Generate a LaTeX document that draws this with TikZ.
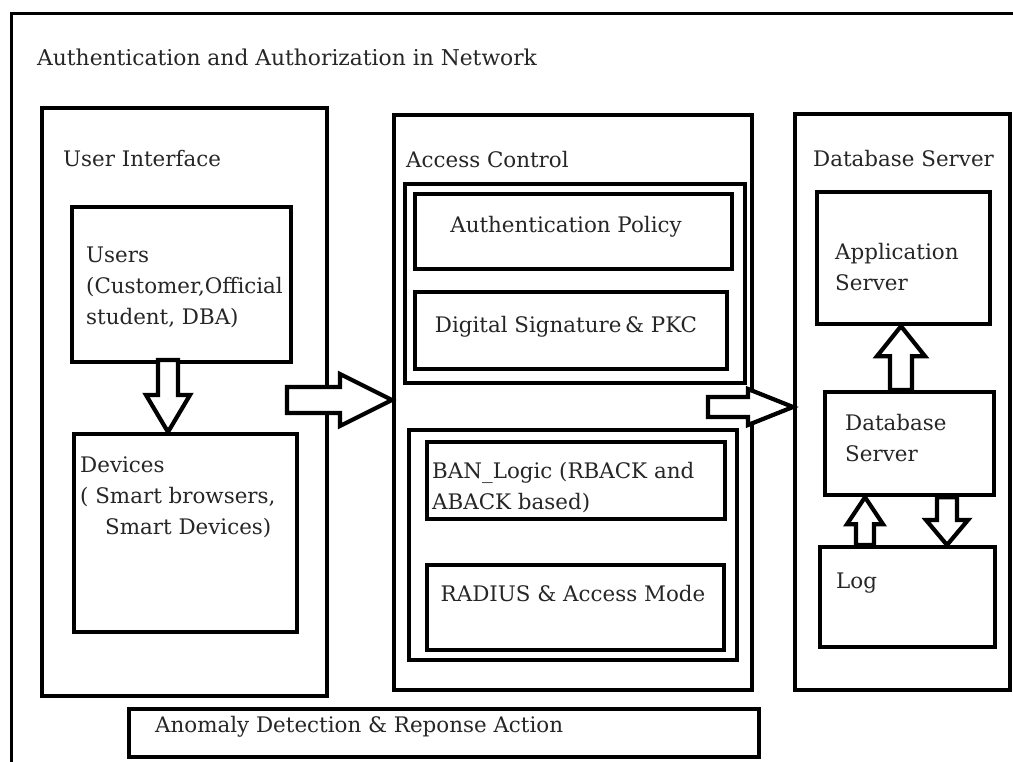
\documentclass[tikz,border=0pt]{standalone}
\usepackage{fontspec}
\setmainfont{DejaVu Serif}
\usetikzlibrary{calc}
\tikzset{
  box/.style={draw=black, line width=4.2pt, fill=white, inner sep=0pt, anchor=north west},
  txt/.style={text=black!85, inner sep=0pt, font=\fontsize{21.4}{31}\selectfont, align=left},
  blockarrow/.style={draw=black, line width=4.2pt, fill=white, line join=miter},
}
% horizontal block arrow: start, tip, shaft half width, head half width, head length
\newcommand\harrow[5]{%
  \draw[blockarrow] ($(#1)+(0,-#3)$) -- ($(#2)+({-1*(#5)},-#3)$) -- ($(#2)+({-1*(#5)},-#4)$) -- (#2)
    -- ($(#2)+({-1*(#5)},#4)$) -- ($(#2)+({-1*(#5)},#3)$) -- ($(#1)+(0,#3)$) -- cycle;}
% vertical block arrow: start, tip, shaft half width, head half width, signed head length
\newcommand\varrow[5]{%
  \draw[blockarrow] ($(#1)+(-#3,0)$) -- ($(#2)+(-#3,{-1*(#5)})$) -- ($(#2)+(-#4,{-1*(#5)})$) -- (#2)
    -- ($(#2)+(#4,{-1*(#5)})$) -- ($(#2)+(#3,{-1*(#5)})$) -- ($(#1)+(#3,0)$) -- cycle;}
\begin{document}
\begin{tikzpicture}[x=1pt,y=-1pt]
\useasboundingbox (0,0) rectangle (1013,762);
\clip (0,0) rectangle (1013,762);
\fill[white] (0,0) rectangle (1013,762);
% outer frame
\node[box, line width=3.4pt, minimum width=1030pt, minimum height=780pt] (frame) at (10,12) {};
\node[txt, anchor=west, font=\fontsize{21.8}{31}\selectfont] (title) at (37,57) {Authentication and Authorization in Network};

% User interface column
\node[box, minimum width=285pt, minimum height=588pt] (ui) at (40,106) {};
\node[txt, anchor=west] (uilbl) at (63,159) {User Interface};
\node[box, minimum width=219pt, minimum height=155pt] (users) at (70,205) {};
\node[txt, anchor=west] (userstxt) at (86,287) {Users\\(Customer,Official\\student, DBA)};
\node[box, minimum width=223pt, minimum height=198pt] (dev) at (72,432) {};
\node[txt, anchor=west] (devtxt) at (80,497) {Devices\\( Smart browsers,\\\hspace*{25pt}Smart Devices)};

% Access control column
\node[box, minimum width=358pt, minimum height=575pt] (ac) at (392,113) {};
\node[txt, anchor=west] (aclbl) at (406,160) {Access Control};
\node[box, minimum width=340pt, minimum height=199pt] (grp1) at (403,182) {};
\node[box, minimum width=317pt, minimum height=75pt] (authp) at (413,192) {};
\node[txt] (authptxt) at (566,227) {Authentication Policy};
\node[box, minimum width=312pt, minimum height=77pt] (dsig) at (413,290) {};
\node[txt] (dsigtxt) at (566,327) {Digital Signature\,\& PKC};
\node[box, minimum width=328pt, minimum height=230pt] (grp2) at (407,428) {};
\node[box, minimum width=298pt, minimum height=77pt] (ban) at (425,440) {};
\node[txt, anchor=west] (bantxt) at (432,488) {BAN\_Logic (RBACK and\\ABACK based)};
\node[box, minimum width=297pt, minimum height=85pt] (radius) at (425,563) {};
\node[txt] (radiustxt) at (573,594) {RADIUS \& Access Mode};

% Anomaly
\node[box, minimum width=630pt, minimum height=48pt] (anom) at (127,707) {};
\node[txt, anchor=west] (anomtxt) at (155,727) {Anomaly Detection \& Reponse Action};

% Database server column
\node[box, minimum width=215pt, minimum height=576pt] (db) at (793,112) {};
\node[txt, anchor=west] (dblbl) at (813,159) {Database Server};
\node[box, minimum width=173pt, minimum height=132pt] (app) at (815,190) {};
\node[txt, anchor=west] (apptxt) at (835,267) {Application\\Server};
\node[box, minimum width=169pt, minimum height=103pt] (dbs) at (823,390) {};
\node[txt, anchor=west] (dbstxt) at (845,438) {Database\\Server};
\node[box, minimum width=175pt, minimum height=100pt] (log) at (818,545) {};
\node[txt, anchor=west] (logtxt) at (836,583) {Log};

% block arrows
\coordinate (a1s) at (168,360);
\coordinate (a1e) at (a1s |- dev.north);
\varrow{a1s}{a1e}{10}{22}{37}
\coordinate (a2s) at (287,400);
\coordinate (a2e) at (ac.west |- a2s);
\harrow{a2s}{a2e}{13}{26}{52}
\coordinate (a3s) at (708,407);
\coordinate (a3e) at (db.west |- a3s);
\harrow{a3s}{a3e}{10}{18}{45}
\coordinate (a4x) at (901,0);
\coordinate (a4s) at (a4x |- dbs.north);
\coordinate (a4e) at (a4x |- app.south);
\varrow{a4s}{a4e}{11}{24}{-30}
\coordinate (a5x) at (865,0);
\coordinate (a5s) at (a5x |- log.north);
\coordinate (a5e) at (a5x |- dbs.south);
\varrow{a5s}{a5e}{9}{18}{-27}
\coordinate (a6x) at (947,0);
\coordinate (a6s) at (a6x |- dbs.south);
\coordinate (a6e) at (a6x |- log.north);
\varrow{a6s}{a6e}{10}{21}{25}
\end{tikzpicture}
\end{document}
